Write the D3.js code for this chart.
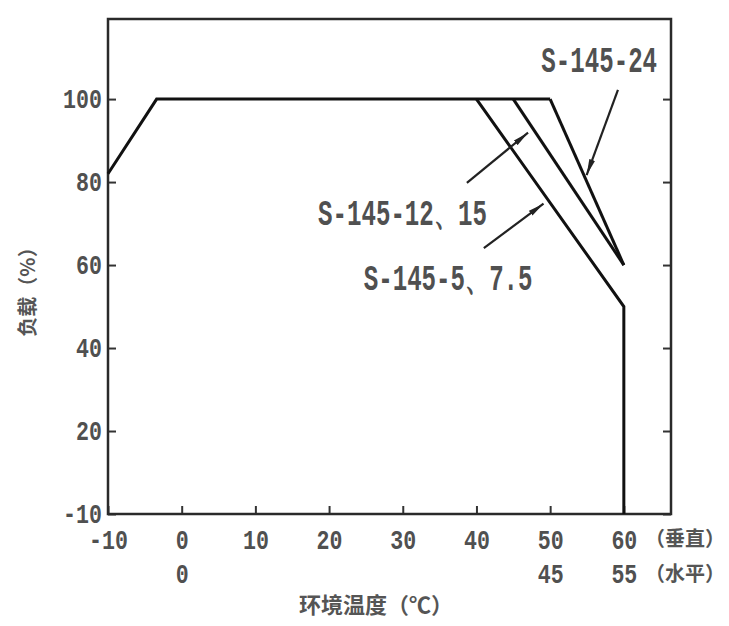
<!DOCTYPE html>
<html>
  <head>
    <meta charset="utf-8" />
    <title>负载-环境温度</title>
    <style>
      body { margin: 0; background: #fff; }
      svg { display: block; }
      .num { font-family: "Liberation Mono", monospace; font-weight: bold; fill: #505050; }
      .cjk { font-family: "Noto Sans CJK SC", sans-serif; font-weight: 700; fill: #555; }
    </style>
  </head>
  <body>
    <div id="chart"></div>
    <script src="https://cdn.jsdelivr.net/npm/d3@7"></script>
    <script>
      // chart values
      var xTicks = [-10, 0, 10, 20, 30, 40, 50, 60];
      var xTickLabels = ["-10", "0", "10", "20", "30", "40", "50", "60"];
      var xTicks2 = [0, 50, 60];
      var xTickLabels2 = ["0", "45", "55"];
      var yTicks = [0, 20, 40, 60, 80, 100];
      var yTickLabels = ["-10", "20", "40", "60", "80", "100"];

      // common part of the curve, then one descending branch per model
      var baseLine = [[-10, 82], [-3.4, 100], [50, 100]];
      var line5 = [[40, 100], [60, 50], [60, 0]];
      var line12 = [[45, 100], [60, 60]];
      var line24 = [[50, 100], [60, 60]];

      // labels and their arrows (data units)
      var annotLabels = ["S-145-24", "S-145-12、15", "S-145-5、7.5"];
      var annotText = [[48.8, 106.6], [18.5, 69.6], [24.7, 54.0]];
      var arrowFrom = [[59.2, 102.2], [38.7, 79.8], [41.0, 64.1]];
      var arrowTo = [[54.95, 81.7], [47.0, 91.9], [49.1, 74.8]];

      var width = 729, height = 626;
      var margin = { top: 19, right: 58, bottom: 112, left: 108 };

      var svg = d3.select("#chart").append("svg")
        .attr("width", width)
        .attr("height", height);

      var x = d3.scaleLinear().domain([-10, 66.4]).range([margin.left, width - margin.right]);
      var y = d3.scaleLinear().domain([0, 119.3]).range([height - margin.bottom, margin.top]);

      svg.append("defs").append("marker")
        .attr("id", "head")
        .attr("viewBox", "0 0 16 7")
        .attr("refX", 16).attr("refY", 3.5)
        .attr("markerWidth", 16).attr("markerHeight", 7)
        .attr("markerUnits", "userSpaceOnUse")
        .attr("orient", "auto")
        .append("path")
        .attr("d", "M0,0.5 L16,3.5 L0,6.5 Z")
        .attr("fill", "#222");

      // squeeze a text horizontally, the original type is tall and narrow
      function squeeze(sel, k) {
        sel.each(function() {
          var w = this.getComputedTextLength();
          d3.select(this).attr("textLength", w * k).attr("lengthAdjust", "spacingAndGlyphs");
        });
      }

      // axes, ticks point inwards
      svg.append("g")
        .attr("transform", "translate(" + x(-10) + ",0)")
        .call(d3.axisLeft(y).tickValues(yTicks).tickSize(-8).tickPadding(6)
          .tickFormat(function(d, i) { return yTickLabels[i]; }));
      svg.append("g")
        .attr("transform", "translate(" + x.range()[1] + ",0)")
        .call(d3.axisRight(y).tickValues(yTicks).tickSize(-8).tickFormat(""));
      svg.append("g")
        .attr("transform", "translate(0," + y(0) + ")")
        .call(d3.axisBottom(x).tickValues(xTicks).tickSize(-8).tickPadding(16)
          .tickFormat(function(d, i) { return xTickLabels[i]; }));
      var gx2 = svg.append("g")
        .attr("transform", "translate(0," + y(0) + ")")
        .call(d3.axisBottom(x).tickValues(xTicks2).tickSize(0).tickPadding(50)
          .tickFormat(function(d, i) { return xTickLabels2[i]; }));
      gx2.selectAll(".tick line").remove();

      svg.selectAll(".domain").remove();
      svg.selectAll(".tick line").attr("stroke", "#333").attr("stroke-width", 2);
      svg.selectAll(".tick text")
        .attr("class", "num")
        .attr("fill", null)
        .style("font-size", "27px");
      squeeze(svg.selectAll(".tick text"), 0.8);

      // frame
      svg.append("rect")
        .attr("x", x.range()[0]).attr("y", y.range()[1])
        .attr("width", x.range()[1] - x.range()[0])
        .attr("height", y.range()[0] - y.range()[1])
        .attr("fill", "none")
        .attr("stroke", "#2a2a2a")
        .attr("stroke-width", 2.5);

      // curves
      var line = d3.line().x(function(d) { return x(d[0]); }).y(function(d) { return y(d[1]); });
      svg.selectAll(".curve")
        .data([baseLine, line5, line12, line24])
        .enter().append("path")
        .attr("class", "curve")
        .attr("d", line)
        .attr("fill", "none")
        .attr("stroke", "#111")
        .attr("stroke-width", 3)
        .attr("stroke-linejoin", "miter");

      // arrows
      svg.selectAll(".arrow")
        .data(arrowFrom)
        .enter().append("line")
        .attr("class", "arrow")
        .attr("x1", function(d) { return x(d[0]); })
        .attr("y1", function(d) { return y(d[1]); })
        .attr("x2", function(d, i) { return x(arrowTo[i][0]); })
        .attr("y2", function(d, i) { return y(arrowTo[i][1]); })
        .attr("stroke", "#222")
        .attr("stroke-width", 2.2)
        .attr("marker-end", "url(#head)");

      var labels = svg.selectAll(".annot")
        .data(annotLabels)
        .enter().append("text")
        .attr("class", "annot num")
        .attr("x", function(d, i) { return x(annotText[i][0]); })
        .attr("y", function(d, i) { return y(annotText[i][1]); })
        .style("font-size", "36px")
        .text(function(d) { return d; });
      squeeze(labels, 0.67);

      // axis titles
      svg.append("text")
        .attr("class", "cjk")
        .attr("transform", "translate(35,287) rotate(-90)")
        .attr("text-anchor", "middle")
        .style("font-size", "20px")
        .text("负载（%）");

      svg.append("text")
        .attr("class", "cjk")
        .attr("x", 376).attr("y", 613)
        .attr("text-anchor", "middle")
        .style("font-size", "22px")
        .text("环境温度（℃）");

      svg.append("text")
        .attr("class", "cjk")
        .attr("x", 645).attr("y", 546)
        .style("font-size", "20px")
        .text("（垂直）");
      svg.append("text")
        .attr("class", "cjk")
        .attr("x", 645).attr("y", 581)
        .style("font-size", "20px")
        .text("（水平）");
    </script>
  </body>
</html>
